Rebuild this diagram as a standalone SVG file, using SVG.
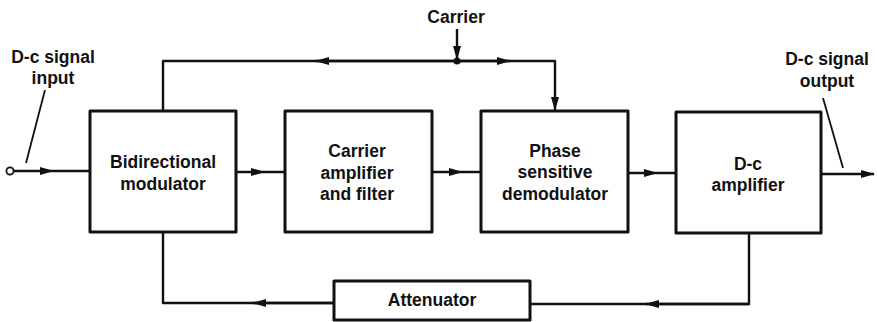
<svg xmlns="http://www.w3.org/2000/svg" width="877" height="322" viewBox="0 0 877 322">
<style>
.box{fill:#fff;stroke:#111;stroke-width:3;stroke-linejoin:round}
.ln{fill:none;stroke:#111;stroke-width:2.4;stroke-linejoin:round}
.lead{fill:none;stroke:#111;stroke-width:1.8}
text{font-family:"Liberation Sans",Arial,sans-serif;font-weight:bold;font-size:17.5px;fill:#111;text-anchor:middle}
</style>
<defs>
<marker id="ah" viewBox="0 0 14 10" refX="13" refY="5" markerWidth="14" markerHeight="10" markerUnits="userSpaceOnUse" orient="auto">
<path d="M0,1 L14,5 L0,9 Z" fill="#111"/>
</marker>
</defs>
<rect width="877" height="322" fill="#fff"/>
<g id="connectors">
<circle cx="10" cy="171" r="3.6" fill="#fff" stroke="#111" stroke-width="1.8"/>
<path class="ln" d="M14,171 L53,171 L90,171" marker-mid="url(#ah)"/>
<path class="ln" d="M236,172 L264,172 L285,172" marker-mid="url(#ah)"/>
<path class="ln" d="M432,172 L462,172 L481,172" marker-mid="url(#ah)"/>
<path class="ln" d="M628,173 L657,173 L676,173" marker-mid="url(#ah)"/>
<path class="ln" d="M821,174 L874,174" marker-end="url(#ah)"/>
<path class="ln" d="M163,111 L163,61 L457,61"/>
<path class="ln" d="M457,61 L316,61" marker-end="url(#ah)"/>
<path class="ln" d="M457,61 L510,61" marker-end="url(#ah)"/>
<path class="ln" d="M457,61 L555,61 L555,110" marker-end="url(#ah)"/>
<path class="ln" d="M457,29 L457,59" marker-end="url(#ah)"/>
<circle cx="457" cy="61" r="3.5" fill="#111"/>
<path class="ln" d="M163,232 L163,303 L334,303"/>
<path class="ln" d="M334,303 L253,303" marker-end="url(#ah)"/>
<path class="ln" d="M749,233 L749,304 L530,304"/>
<path class="ln" d="M749,304 L646,304" marker-end="url(#ah)"/>
<path class="lead" d="M45,90 L26,163"/>
<path class="lead" d="M823,98 L843,168"/>
</g>
<g id="input-label">
<text x="53" y="63">D-c signal</text>
<text x="53" y="84">input</text>
</g>
<g id="output-label">
<text x="827" y="65">D-c signal</text>
<text x="827" y="87">output</text>
</g>
<g id="carrier-label">
<text x="456" y="23">Carrier</text>
</g>
<g id="modulator">
<rect class="box" x="90" y="111" width="146" height="121"/>
<text x="163" y="168">Bidirectional</text>
<text x="163" y="190">modulator</text>
</g>
<g id="carrier-amplifier">
<rect class="box" x="285" y="111" width="147" height="121"/>
<text x="357" y="157">Carrier</text>
<text x="357" y="179">amplifier</text>
<text x="357" y="200">and filter</text>
</g>
<g id="demodulator">
<rect class="box" x="481" y="111" width="147" height="121"/>
<text x="555" y="157">Phase</text>
<text x="555" y="178">sensitive</text>
<text x="555" y="200">demodulator</text>
</g>
<g id="dc-amplifier">
<rect class="box" x="676" y="112" width="145" height="121"/>
<text x="748" y="170">D-c</text>
<text x="748" y="191">amplifier</text>
</g>
<g id="attenuator">
<rect class="box" x="334" y="281" width="196" height="39"/>
<text x="432" y="306">Attenuator</text>
</g>
</svg>
